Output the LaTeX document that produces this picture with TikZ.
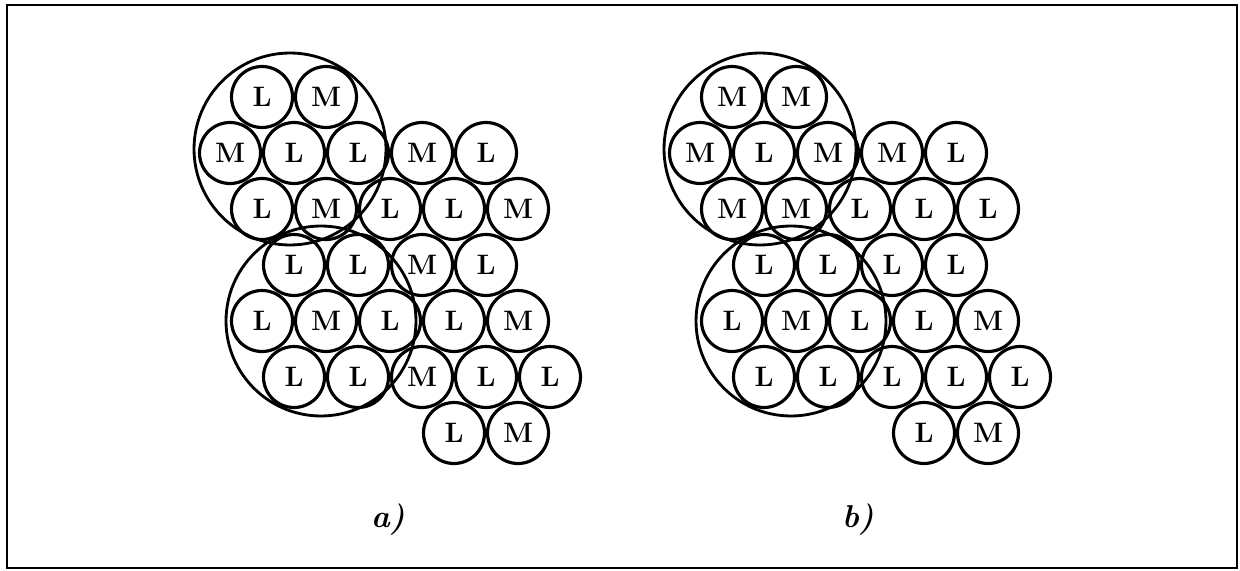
\documentclass[tikz,border=0pt]{standalone}
\usepackage{tikz}

\begin{document}
\begin{tikzpicture}[
  x=0.02cm, y=-0.02cm,
  ball/.style={circle,draw,line width=1.8pt,minimum size=1.22cm,inner sep=0pt,font=\fontsize{16}{16}\selectfont\bfseries},
  ring/.style={line width=1.6pt},
  tag/.style={font=\fontsize{18}{18}\selectfont\bfseries\itshape}
]
  \useasboundingbox (0,0) rectangle (1240,571);
  \draw[line width=1.2pt] (7,5) rectangle (1237,568);
  % panel a
  \node[ball] (a11) at (262,97) {L};
  \node[ball] (a12) at (326,97) {M};
  \node[ball] (a21) at (230,153) {M};
  \node[ball] (a22) at (294,153) {L};
  \node[ball] (a23) at (358,153) {L};
  \node[ball] (a24) at (422,153) {M};
  \node[ball] (a25) at (486,153) {L};
  \node[ball] (a31) at (262,209) {L};
  \node[ball] (a32) at (326,209) {M};
  \node[ball] (a33) at (390,209) {L};
  \node[ball] (a34) at (454,209) {L};
  \node[ball] (a35) at (518,209) {M};
  \node[ball] (a41) at (294,265) {L};
  \node[ball] (a42) at (358,265) {L};
  \node[ball] (a43) at (422,265) {M};
  \node[ball] (a44) at (486,265) {L};
  \node[ball] (a51) at (262,321) {L};
  \node[ball] (a52) at (326,321) {M};
  \node[ball] (a53) at (390,321) {L};
  \node[ball] (a54) at (454,321) {L};
  \node[ball] (a55) at (518,321) {M};
  \node[ball] (a61) at (294,377) {L};
  \node[ball] (a62) at (358,377) {L};
  \node[ball] (a63) at (422,377) {M};
  \node[ball] (a64) at (486,377) {L};
  \node[ball] (a65) at (550,377) {L};
  \node[ball] (a71) at (454,433) {L};
  \node[ball] (a72) at (518,433) {M};
  \draw[ring] (290,149) circle[radius=1.92cm];
  \draw[ring] (321,321) circle[radius=1.9cm];
  \node[tag] (la) at (388,520) {a)};
  % panel b
  \node[ball] (b11) at (732,97) {M};
  \node[ball] (b12) at (796,97) {M};
  \node[ball] (b21) at (700,153) {M};
  \node[ball] (b22) at (764,153) {L};
  \node[ball] (b23) at (828,153) {M};
  \node[ball] (b24) at (892,153) {M};
  \node[ball] (b25) at (956,153) {L};
  \node[ball] (b31) at (732,209) {M};
  \node[ball] (b32) at (796,209) {M};
  \node[ball] (b33) at (860,209) {L};
  \node[ball] (b34) at (924,209) {L};
  \node[ball] (b35) at (988,209) {L};
  \node[ball] (b41) at (764,265) {L};
  \node[ball] (b42) at (828,265) {L};
  \node[ball] (b43) at (892,265) {L};
  \node[ball] (b44) at (956,265) {L};
  \node[ball] (b51) at (732,321) {L};
  \node[ball] (b52) at (796,321) {M};
  \node[ball] (b53) at (860,321) {L};
  \node[ball] (b54) at (924,321) {L};
  \node[ball] (b55) at (988,321) {M};
  \node[ball] (b61) at (764,377) {L};
  \node[ball] (b62) at (828,377) {L};
  \node[ball] (b63) at (892,377) {L};
  \node[ball] (b64) at (956,377) {L};
  \node[ball] (b65) at (1020,377) {L};
  \node[ball] (b71) at (924,433) {L};
  \node[ball] (b72) at (988,433) {M};
  \draw[ring] (760,149) circle[radius=1.92cm];
  \draw[ring] (791,321) circle[radius=1.9cm];
  \node[tag] (lb) at (858,520) {b)};
\end{tikzpicture}
\end{document}
